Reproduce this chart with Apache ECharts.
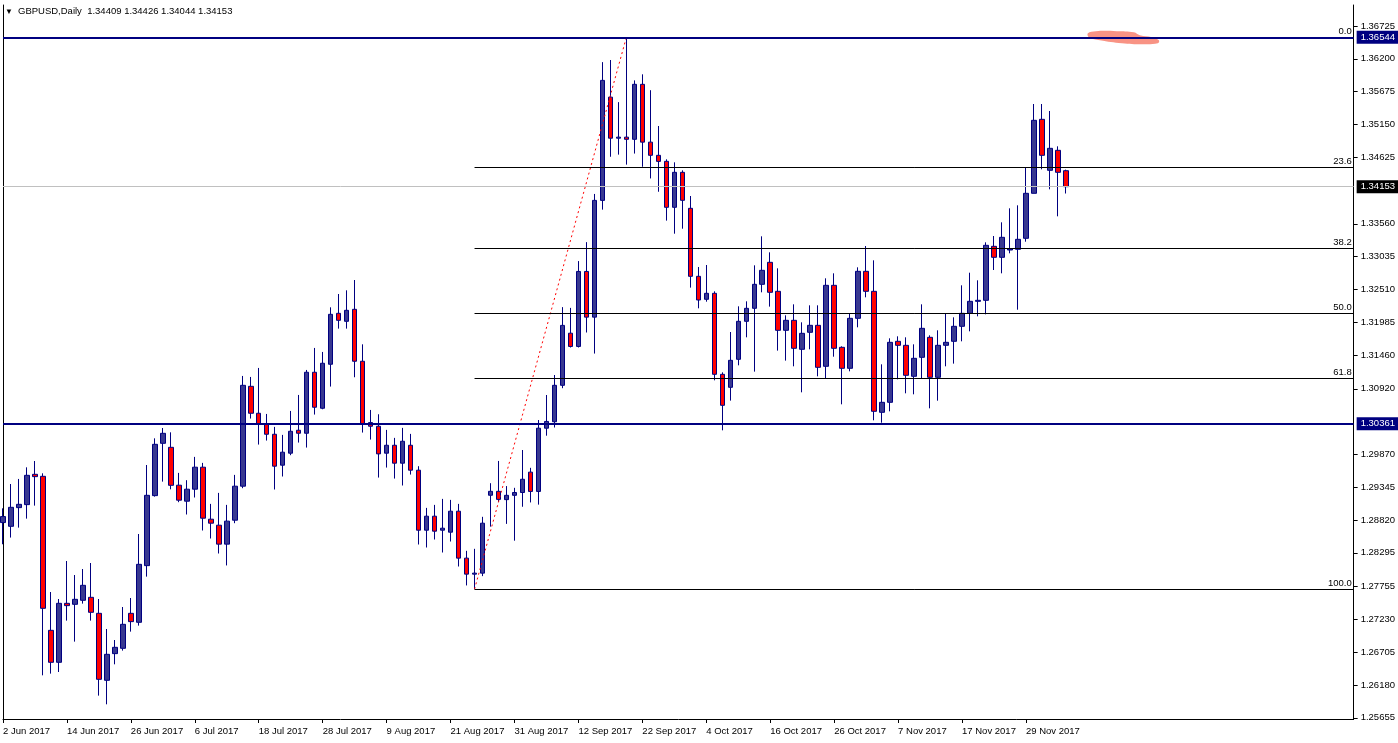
<!DOCTYPE html>
<html>
<head>
<meta charset="utf-8">
<script src="https://cdn.jsdelivr.net/npm/echarts@6/dist/echarts.min.js"></script>
<style>
html,body{margin:0;padding:0;background:#ffffff;}
#chart{width:1398px;height:743px;}
</style>
</head>
<body>
<div id="chart"></div>
<script>
// ---------------- data ----------------
const symbolName = 'GBPUSD';
const periodName = 'Daily';

const dates = [
'2 Jun 2017','5 Jun 2017','6 Jun 2017','7 Jun 2017','8 Jun 2017','9 Jun 2017','12 Jun 2017','13 Jun 2017','14 Jun 2017','15 Jun 2017','16 Jun 2017','19 Jun 2017','20 Jun 2017','21 Jun 2017','22 Jun 2017','23 Jun 2017','26 Jun 2017','27 Jun 2017','28 Jun 2017','29 Jun 2017','30 Jun 2017',
'3 Jul 2017','4 Jul 2017','5 Jul 2017','6 Jul 2017','7 Jul 2017','10 Jul 2017','11 Jul 2017','12 Jul 2017','13 Jul 2017','14 Jul 2017','17 Jul 2017','18 Jul 2017','19 Jul 2017','20 Jul 2017','21 Jul 2017','24 Jul 2017','25 Jul 2017','26 Jul 2017','27 Jul 2017','28 Jul 2017','31 Jul 2017',
'1 Aug 2017','2 Aug 2017','3 Aug 2017','4 Aug 2017','7 Aug 2017','8 Aug 2017','9 Aug 2017','10 Aug 2017','11 Aug 2017','14 Aug 2017','15 Aug 2017','16 Aug 2017','17 Aug 2017','18 Aug 2017','21 Aug 2017','22 Aug 2017','23 Aug 2017','24 Aug 2017','25 Aug 2017','28 Aug 2017','29 Aug 2017','30 Aug 2017','31 Aug 2017',
'1 Sep 2017','4 Sep 2017','5 Sep 2017','6 Sep 2017','7 Sep 2017','8 Sep 2017','11 Sep 2017','12 Sep 2017','13 Sep 2017','14 Sep 2017','15 Sep 2017','18 Sep 2017','19 Sep 2017','20 Sep 2017','21 Sep 2017','22 Sep 2017','25 Sep 2017','26 Sep 2017','27 Sep 2017','28 Sep 2017','29 Sep 2017',
'2 Oct 2017','3 Oct 2017','4 Oct 2017','5 Oct 2017','6 Oct 2017','9 Oct 2017','10 Oct 2017','11 Oct 2017','12 Oct 2017','13 Oct 2017','16 Oct 2017','17 Oct 2017','18 Oct 2017','19 Oct 2017','20 Oct 2017','23 Oct 2017','24 Oct 2017','25 Oct 2017','26 Oct 2017','27 Oct 2017','30 Oct 2017','31 Oct 2017',
'1 Nov 2017','2 Nov 2017','3 Nov 2017','6 Nov 2017','7 Nov 2017','8 Nov 2017','9 Nov 2017','10 Nov 2017','13 Nov 2017','14 Nov 2017','15 Nov 2017','16 Nov 2017','17 Nov 2017','20 Nov 2017','21 Nov 2017','22 Nov 2017','23 Nov 2017','24 Nov 2017','27 Nov 2017','28 Nov 2017','29 Nov 2017','30 Nov 2017',
'1 Dec 2017','4 Dec 2017','5 Dec 2017','6 Dec 2017'
];

const opens = [
1.28779,1.28719,1.29018,1.29066,1.29551,1.29519,1.27055,1.26543,1.27487,1.27471,1.27535,1.27583,1.27327,1.26255,1.26682,1.26767,1.27327,1.27183,1.28090,1.29210,1.30047,
1.29983,1.29377,1.29121,1.29313,1.29665,1.28833,1.28737,1.28434,1.28817,1.29361,1.30959,1.30528,1.30358,1.30192,1.29697,1.29889,1.30256,1.30208,1.31184,1.30608,1.31312,
1.32127,1.31999,1.32191,1.31360,1.30379,1.30320,1.29889,1.30016,1.29729,1.30016,1.29617,1.28657,1.28881,1.28657,1.28625,1.28961,1.28210,1.27954,1.27970,1.29216,1.29279,1.29146,1.29215,
1.29260,1.29586,1.29277,1.30289,1.30392,1.30975,1.31809,1.31597,1.32797,1.32066,1.33934,1.35586,1.34929,1.34946,1.34911,1.35791,1.34866,1.34655,1.34559,1.33823,1.34383,
1.33807,1.32719,1.32351,1.32447,1.31151,1.30943,1.31391,1.31999,1.32207,1.32591,1.32943,1.32479,1.31855,1.32015,1.31551,1.31823,1.31935,1.31279,1.32575,1.31583,1.31247,1.32047,
1.32799,1.32479,1.30543,1.30703,1.31679,1.31615,1.31119,1.31423,1.31743,1.31103,1.31615,1.31679,1.31919,1.32127,1.32319,1.32335,1.33199,1.33023,1.33140,1.33151,1.33327,1.34047,
1.35231,1.34415,1.34735,1.34409
];
const highs = [
1.29007,1.29396,1.29477,1.29663,1.29764,1.29567,1.27668,1.27556,1.28164,1.27940,1.28036,1.28132,1.27556,1.27076,1.26900,1.27428,1.27572,1.28596,1.29700,1.30127,1.30292,
1.30223,1.29574,1.29457,1.29830,1.29734,1.29078,1.29254,1.29062,1.29542,1.31125,1.31109,1.31253,1.30517,1.30310,1.30182,1.30565,1.30821,1.31221,1.31573,1.31509,1.32223,
1.32436,1.32495,1.32660,1.31631,1.30581,1.30512,1.30262,1.30134,1.30294,1.30198,1.29681,1.29014,1.29062,1.29158,1.29142,1.29078,1.28327,1.28359,1.28871,1.29409,1.29765,1.29363,1.29335,
1.29940,1.29655,1.30420,1.30820,1.31140,1.32226,1.32214,1.32963,1.33266,1.34037,1.36146,1.36180,1.35506,1.36544,1.35854,1.35951,1.35697,1.35124,1.34591,1.34543,1.34415,
1.34004,1.32868,1.32900,1.32479,1.31183,1.31828,1.32239,1.32319,1.32895,1.33359,1.33103,1.32847,1.32095,1.32271,1.31983,1.32255,1.32255,1.32687,1.32767,1.31599,1.32121,1.32863,
1.33204,1.32975,1.31311,1.31727,1.31759,1.31743,1.31631,1.32271,1.31775,1.31855,1.32127,1.32063,1.32575,1.32777,1.32655,1.33263,1.33364,1.33583,1.33807,1.33855,1.34463,1.35476,
1.35476,1.35364,1.34799,1.34426
];
const lows = [
1.28432,1.28539,1.28698,1.28842,1.29050,1.26335,1.26362,1.26388,1.27210,1.26874,1.27482,1.27210,1.26010,1.25871,1.26511,1.26730,1.27034,1.27130,1.27914,1.29194,1.29434,
1.29311,1.29105,1.28908,1.29180,1.28652,1.28524,1.28284,1.28093,1.28769,1.29329,1.30443,1.30027,1.30091,1.29308,1.29516,1.29857,1.30059,1.29979,1.30507,1.30592,1.30955,
1.31882,1.31882,1.31104,1.30219,1.30107,1.29499,1.29659,1.29483,1.29372,1.29547,1.28428,1.28380,1.28508,1.28300,1.28476,1.28076,1.27773,1.27714,1.27922,1.28714,1.29106,1.28758,1.28489,
1.29032,1.29101,1.29066,1.30169,1.30300,1.30929,1.31580,1.31580,1.31820,1.31483,1.33786,1.34632,1.34666,1.34506,1.34683,1.34472,1.34285,1.34072,1.33610,1.33401,1.33481,
1.32538,1.32207,1.32313,1.31055,1.30255,1.30730,1.31295,1.31743,1.31194,1.32463,1.32234,1.31530,1.31370,1.31279,1.30863,1.31551,1.31119,1.31087,1.31433,1.30671,1.31199,1.31903,
1.32383,1.30415,1.30377,1.30559,1.31071,1.30847,1.30831,1.31092,1.30607,1.30729,1.31279,1.31322,1.31679,1.31839,1.32079,1.32111,1.32820,1.32767,1.33087,1.32185,1.33273,1.34047,
1.34431,1.34111,1.33679,1.34044
];
const closes = [
1.28875,1.29023,1.29071,1.29535,1.29514,1.27407,1.26543,1.27487,1.27450,1.27551,1.27775,1.27343,1.26271,1.26671,1.26783,1.27151,1.27194,1.28111,1.29215,1.30031,1.30207,
1.29375,1.29137,1.29313,1.29665,1.28849,1.28769,1.28434,1.28802,1.29361,1.30975,1.30528,1.30358,1.30192,1.29681,1.29905,1.30240,1.30208,1.31184,1.30624,1.31328,1.32111,
1.32015,1.32175,1.31360,1.30363,1.30320,1.29878,1.30016,1.29729,1.30080,1.29617,1.28657,1.28881,1.28641,1.28689,1.28961,1.28210,1.27954,1.27970,1.28769,1.29279,1.29150,1.29215,1.29260,
1.29472,1.29277,1.30289,1.30397,1.30975,1.31934,1.31597,1.32797,1.32066,1.33934,1.35854,1.34929,1.34946,1.34911,1.35791,1.34866,1.34655,1.34558,1.33823,1.34383,1.33935,
1.32719,1.32340,1.32447,1.31151,1.30655,1.31375,1.31999,1.32207,1.32591,1.32815,1.32463,1.31855,1.32015,1.31567,1.31807,1.31935,1.31263,1.32575,1.31567,1.31247,1.32047,1.32799,
1.32479,1.30559,1.30703,1.31663,1.31615,1.31135,1.31407,1.31887,1.31103,1.31615,1.31663,1.31919,1.32127,1.32319,1.32335,1.33215,1.33023,1.33343,1.33156,1.33311,1.34047,1.35215,
1.34655,1.34767,1.34383,1.34153
];

// right price-axis labels as printed
const yTickLabels = [1.36725,1.36200,1.35675,1.35150,1.34625,1.33560,1.33035,1.32510,1.31985,1.31460,1.30920,
                     1.29870,1.29345,1.28820,1.28295,1.27755,1.27230,1.26705,1.26180,1.25655];

// horizontal levels
const resistanceLevel = 1.36544;
const supportLevel = 1.30361;
const bidLevel = 1.34153;

// fibonacci retracement (from swing low bar to swing high bar)
const fibLowIdx = 59, fibHighIdx = 78;
const fibLow = 1.27714, fibHigh = 1.36544;
const fibRatios = [0.0, 23.6, 38.2, 50.0, 61.8, 100.0];

// salmon marker smudge near the top (bar index, price of its centre)
const smudgeAnchor = [[139.5, 1.36530]];

// ---------------- layout constants ----------------
const RIGHT_PAD_BARS = 36;
const FONT = '"Liberation Sans", Arial, sans-serif';
const NAVY = '#000080';
const SMUDGE_SHAPE = [[-34,-5],[-26,-7],[-5,-7],[12,-6],[18,-3],[30,-1],[37,2],[36,5],[20,6],[0,5],[-22,2],[-33,-1]];

const categories = dates.slice();
for (let i = 0; i < RIGHT_PAD_BARS; i++) categories.push('pad' + i);
const lastIdx = categories.length - 1;

const candleData = dates.map((d, i) => [opens[i], closes[i], lows[i], highs[i]]);
const showIdx = (i) => i % 8 === 0 && i < dates.length;

const fibPrice = (r) => fibHigh - (fibHigh - fibLow) * r / 100;
const fibLines = fibRatios.map(r => [
  { coord: [fibLowIdx, fibPrice(r)], label: { formatter: r.toFixed(1) } },
  { coord: [lastIdx, fibPrice(r)] }
]);
const fullLine = (level, extra) => [
  Object.assign({ coord: [0, level] }, extra),
  { coord: [lastIdx, level] }
];

const n = dates.length - 1;
const headerText = symbolName + ',' + periodName + '  ' +
  [opens[n], highs[n], lows[n], closes[n]].map(v => v.toFixed(5)).join(' ');

const YMIN = 1.256362, YMAX = 1.370602;

const chart = echarts.init(document.getElementById('chart'), null, { renderer: 'canvas' });
chart.setOption({
  animation: false,
  backgroundColor: '#ffffff',
  textStyle: { fontFamily: FONT },
  graphic: [
    { type: 'text', left: 5, top: 8, z: 100, style: { text: '▼', fontSize: 8, fill: '#000', fontFamily: FONT } },
    { type: 'text', left: 18, top: 6, z: 100, style: { text: headerText, fontSize: 9.5, fill: '#000', fontFamily: FONT } }
  ],
  grid: { left: 2, right: 44, top: 5, bottom: 24, containLabel: false },
  xAxis: {
    type: 'category',
    data: categories,
    boundaryGap: false,
    axisLine: { show: true, onZero: false, lineStyle: { color: '#000', width: 1 } },
    axisTick: { show: true, interval: (i) => showIdx(i), length: 4, lineStyle: { color: '#000' } },
    axisLabel: {
      interval: (i) => showIdx(i), align: 'left', margin: 7,
      fontSize: 9.5, color: '#000', fontFamily: FONT,
      formatter: (v) => (v.indexOf('pad') === 0 ? '' : v)
    },
    splitLine: { show: false }
  },
  yAxis: [
    {
      type: 'value', position: 'right', min: YMIN, max: YMAX, scale: true,
      axisLine: { show: true, lineStyle: { color: '#000', width: 1 } },
      axisTick: { show: true, length: 4, inside: false, customValues: yTickLabels, lineStyle: { color: '#000' } },
      axisLabel: {
        customValues: yTickLabels, margin: 7, fontSize: 9.5, color: '#000', fontFamily: FONT,
        padding: [4, 0, 0, 0],
        formatter: (v) => Number(v).toFixed(5)
      },
      splitLine: { show: false }
    },
    {
      type: 'value', position: 'left', min: YMIN, max: YMAX, scale: true,
      axisLine: { show: true, lineStyle: { color: '#000', width: 1 } },
      axisTick: { show: false }, axisLabel: { show: false }, splitLine: { show: false }
    }
  ],
  series: [
    {
      // fibonacci levels + bid line (behind candles)
      type: 'line', data: [], z: 1, silent: true,
      markLine: {
        silent: true, symbol: ['none', 'none'], animation: false,
        lineStyle: { color: '#000', width: 1, type: 'solid' },
        label: { show: true, position: 'insideEndTop', distance: [2, 1], color: '#000', fontSize: 9.5, fontFamily: FONT },
        data: fibLines.concat([
          fullLine(bidLevel, {
            lineStyle: { color: '#c0c0c0', width: 1 },
            label: { position: 'end', distance: 3, formatter: bidLevel.toFixed(5), color: '#fff',
                     backgroundColor: '#000', padding: [2, 4, 1, 4], fontSize: 9.5 }
          })
        ])
      }
    },
    {
      type: 'custom', z: 2, silent: true,
      data: smudgeAnchor,
      renderItem: function (params, api) {
        const p = api.coord([api.value(0), api.value(1)]);
        return {
          type: 'polygon',
          shape: { points: SMUDGE_SHAPE.map(d => [p[0] + d[0], p[1] + d[1]]), smooth: 0.4 },
          style: { fill: '#f7806f', opacity: 0.85 }
        };
      }
    },
    {
      type: 'candlestick',
      data: candleData,
      barWidth: 5,
      z: 3,
      itemStyle: {
        color: '#383890', color0: '#ff0000',
        borderColor: NAVY, borderColor0: NAVY, borderWidth: 1
      }
    },
    {
      // dotted trend line of the fibonacci swing
      type: 'line', z: 4, silent: true,
      data: [[fibLowIdx, fibLow], [fibHighIdx, fibHigh]],
      symbol: 'none',
      lineStyle: { color: '#ff0000', width: 1, type: [2, 3] }
    },
    {
      // support / resistance lines
      type: 'line', data: [], z: 5, silent: true,
      markLine: {
        silent: true, symbol: ['none', 'none'], animation: false,
        lineStyle: { color: NAVY, width: 2, type: 'solid' },
        label: { show: true, position: 'end', distance: 3, color: '#fff', backgroundColor: NAVY,
                 padding: [2, 4, 1, 4], fontSize: 9.5, fontFamily: FONT },
        data: [
          fullLine(resistanceLevel, { label: { formatter: resistanceLevel.toFixed(5) } }),
          fullLine(supportLevel, { label: { formatter: supportLevel.toFixed(5) } })
        ]
      }
    }
  ]
});
</script>
</body>
</html>
